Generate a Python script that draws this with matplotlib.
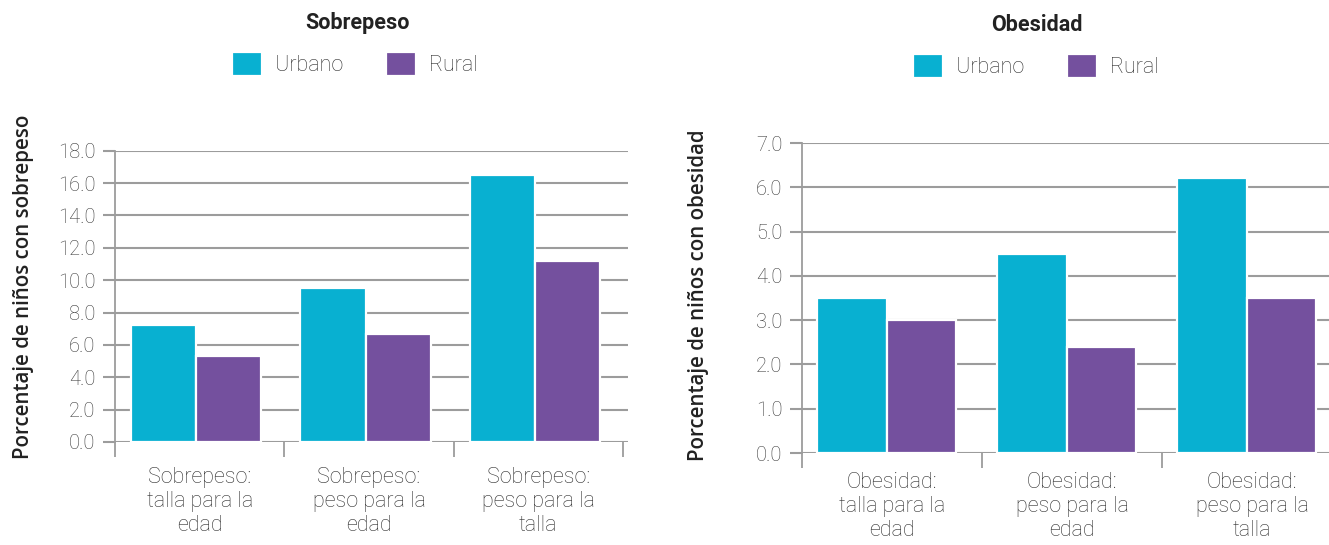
import matplotlib
matplotlib.use("Agg")
import matplotlib.pyplot as plt
import numpy as np

plt.rcParams['font.family'] = ['Roboto', 'DejaVu Sans']

series = ['Urbano', 'Rural']
colors = ['#08B0D1', '#74509E']

sobrepeso_cats = ['Sobrepeso:\ntalla para la\nedad', 'Sobrepeso:\npeso para la\nedad', 'Sobrepeso:\npeso para la\ntalla']
sobrepeso_urbano = [7.2, 9.5, 16.5]
sobrepeso_rural = [5.3, 6.7, 11.2]
sobrepeso_ticks = [0, 2, 4, 6, 8, 10, 12, 14, 16, 18]

obesidad_cats = ['Obesidad:\ntalla para la\nedad', 'Obesidad:\npeso para la\nedad', 'Obesidad:\npeso para la\ntalla']
obesidad_urbano = [3.5, 4.5, 6.2]
obesidad_rural = [3.0, 2.4, 3.5]
obesidad_ticks = [0, 1, 2, 3, 4, 5, 6, 7]

grid_c = '#9c9c9c'
text_c = '#2e2e2e'


def draw_panel(ax, cats, urbano, rural, yticks, xmax, shift, xpad, ylabel, title, title_xy, leg_xy, label_xy):
    x = np.arange(len(cats)) + shift
    w = 0.385
    b1 = ax.bar(x - w / 2, urbano, w, color=colors[0], edgecolor='white', linewidth=1.6, zorder=3, label=series[0])
    b2 = ax.bar(x + w / 2, rural, w, color=colors[1], edgecolor='white', linewidth=1.6, zorder=3, label=series[1])

    ax.set_ylim(0, yticks[-1])
    ax.set_xlim(-0.5, xmax)
    ax.set_yticks(yticks)
    ax.set_yticklabels(['%.1f' % t for t in yticks], fontsize=14.5, fontweight='light', color='#3a3a3a')
    ax.yaxis.grid(True, color=grid_c, linewidth=1.5, zorder=0)
    ax.set_axisbelow(True)
    ax.tick_params(axis='y', length=9, width=1.5, color=grid_c, pad=5)

    ax.set_xticks(np.arange(len(cats)))
    ax.set_xticklabels(cats, fontsize=15.5, fontweight='light', color=text_c, linespacing=1.18)
    ax.set_xticks([-0.5, 0.5, 1.5, 2.5], minor=True)
    ax.tick_params(axis='x', which='major', length=0, pad=xpad)
    ax.tick_params(axis='x', which='minor', length=11, width=1.3, color=grid_c)

    for s in ['top', 'right', 'bottom']:
        ax.spines[s].set_visible(False)
    ax.spines['left'].set_color(grid_c)
    ax.spines['left'].set_linewidth(1.3)
    ax.spines['left'].set_zorder(1)

    ax.set_ylabel(ylabel, fontsize=14.8, fontweight='semibold', family=['Open Sans', 'DejaVu Sans'], color='#222222')
    ax.yaxis.set_label_coords(*label_xy)

    fig.text(title_xy[0], title_xy[1], title, fontsize=15.5, fontweight='bold', color='#222222', ha='center', va='center')
    fig.legend(handles=[b1, b2], loc='center', bbox_to_anchor=leg_xy, ncol=2, frameon=False,
               prop={'family': 'Roboto', 'weight': 'light', 'size': 15.5}, labelcolor=text_c,
               handlelength=1.4, handleheight=1.4, handletextpad=0.6, columnspacing=2.0)


fig = plt.figure(figsize=(13.29, 5.45), dpi=100)
ax1 = fig.add_axes([115 / 1329, 0.189, 513 / 1329, 0.5345])
ax2 = fig.add_axes([802 / 1329, 0.1688, 540 / 1329, 0.5688])

draw_panel(ax1, sobrepeso_cats, sobrepeso_urbano, sobrepeso_rural, sobrepeso_ticks, 2.53, -0.02, 18,
           'Porcentaje de niños con sobrepeso', 'Sobrepeso', (358 / 1329, 1 - 23 / 545),
           (355 / 1329, 1 - 64 / 545), (-0.158, 0.533))
draw_panel(ax2, obesidad_cats, obesidad_urbano, obesidad_rural, obesidad_ticks, 2.5, -0.03, 14,
           'Porcentaje de niños con obesidad', 'Obesidad', (1037 / 1329, 1 - 25 / 545),
           (1036 / 1329, 1 - 66 / 545), (-0.172, 0.51))

fig.savefig('out.png', dpi=100)
